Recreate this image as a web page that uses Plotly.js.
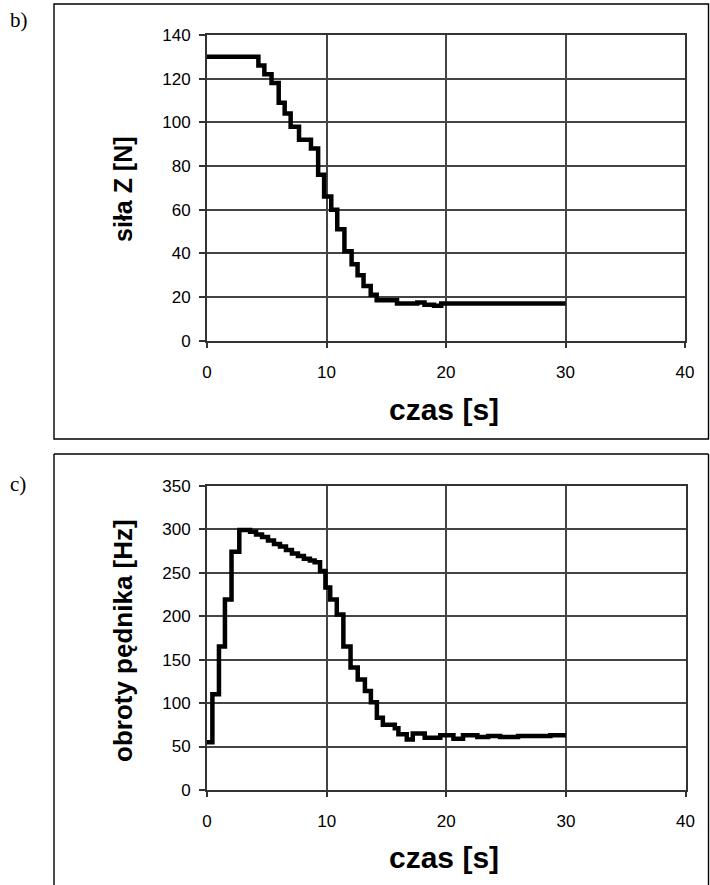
<!DOCTYPE html>
<html>
<head>
<meta charset="utf-8">
<script src="https://cdn.plot.ly/plotly-3.0.1.min.js"></script>
<style>
  html, body { margin: 0; padding: 0; background: #fff; }
  #chart { width: 710px; height: 885px; }
</style>
</head>
<body>
<div id="chart"></div>
<script>
// ---- data ----
const czasZ = [0, 4.3, 4.8, 5.4, 6.0, 6.5, 7.0, 7.7, 8.7, 9.3, 9.8, 10.4, 10.9, 11.5, 12.1, 12.6, 13.1, 13.7, 14.2, 15.9, 17.6, 18.2, 19.0, 19.6, 21.0, 23.0, 25.0, 27.0, 30.0];
const silaZ = [130, 126, 122, 118, 109, 104, 98, 92, 88, 76, 66, 60, 51, 41, 35, 30, 25, 21, 18.5, 17, 17.5, 16.5, 16, 17, 17, 17, 17, 17, 17];

const czasN = [0, 0.45, 1.0, 1.5, 2.05, 2.7, 3.6, 4.1, 4.6, 5.1, 5.6, 6.1, 6.6, 7.1, 7.6, 8.1, 8.6, 9.0, 9.45, 9.9, 10.3, 10.85, 11.4, 12.0, 12.6, 13.2, 13.7, 14.2, 14.7, 15.7, 16.0, 16.7, 17.2, 18.2, 19.5, 20.6, 21.4, 22.6, 23.5, 24.5, 26.0, 27.8, 28.7, 30.0];
const obroty = [55, 110, 165, 219, 274, 299, 297, 294, 291, 287, 283, 280, 276, 272, 269, 266, 264, 262, 252, 233, 219, 202, 165, 141, 127, 114, 101, 83, 75, 71, 64, 58, 65, 60, 63, 59, 63, 61, 62, 61, 62, 62, 63, 63];

const xTicks = [0, 10, 20, 30, 40];
const yTicksZ = [0, 20, 40, 60, 80, 100, 120, 140];
const yTicksN = [0, 50, 100, 150, 200, 250, 300, 350];

const xTitle = 'czas [s]';
const yTitleZ = 'siła Z [N]';
const yTitleN = 'obroty pędnika [Hz]';

// ---- layout helpers ----
const W = 710, H = 885;
const px = x => x / W;
const py = y => 1 - y / H;
const SANS = 'Liberation Sans, Arial, Helvetica, sans-serif';

const lineStyle = { color: '#000', width: 4.5, shape: 'hv' };

const data = [
  { x: czasZ, y: silaZ, type: 'scatter', mode: 'lines', line: lineStyle, xaxis: 'x', yaxis: 'y', hoverinfo: 'skip' },
  { x: czasN, y: obroty, type: 'scatter', mode: 'lines', line: lineStyle, xaxis: 'x2', yaxis: 'y2', hoverinfo: 'skip' }
];

function xAxis(anchor, domain) {
  return {
    anchor: anchor, domain: domain, range: [0, 40],
    tickmode: 'array', tickvals: xTicks, ticktext: xTicks.map(String),
    ticks: 'outside', ticklen: 5, tickcolor: '#333', tickwidth: 2,
    showgrid: true, gridcolor: '#444', gridwidth: 2, zeroline: false,
    showline: true, mirror: true, linecolor: '#333', linewidth: 2,
    tickfont: { family: SANS, size: 17, color: '#000' },
    ticklabelstandoff: 10, fixedrange: true
  };
}
function yAxis(anchor, domain, maxv, ticks) {
  return {
    anchor: anchor, domain: domain, range: [0, maxv],
    tickmode: 'array', tickvals: ticks, ticktext: ticks.map(String),
    ticks: 'outside', ticklen: 6, tickcolor: '#333', tickwidth: 2,
    showgrid: true, gridcolor: '#444', gridwidth: 2, zeroline: false,
    showline: true, mirror: true, linecolor: '#333', linewidth: 2,
    tickfont: { family: SANS, size: 17, color: '#000' },
    ticklabelstandoff: 5, fixedrange: true
  };
}

const layout = {
  width: W, height: H,
  margin: { l: 0, r: 0, t: 0, b: 0, pad: 0 },
  paper_bgcolor: '#fff', plot_bgcolor: '#fff',
  showlegend: false,
  xaxis: xAxis('y', [px(207), px(685)]),
  yaxis: yAxis('x', [py(340.7), py(35)], 140, yTicksZ),
  xaxis2: xAxis('y2', [px(207), px(685.5)]),
  yaxis2: yAxis('x2', [py(790), py(485.7)], 350, yTicksN),
  shapes: [
    { type: 'rect', xref: 'paper', yref: 'paper', x0: px(54), x1: px(708.5), y0: py(439), y1: py(4), line: { color: '#000', width: 1.4 } },
    { type: 'line', xref: 'paper', yref: 'paper', x0: px(54), x1: px(708.5), y0: py(454), y1: py(454), line: { color: '#000', width: 1.4 } },
    { type: 'line', xref: 'paper', yref: 'paper', x0: px(54), x1: px(54), y0: py(454), y1: py(890), line: { color: '#000', width: 1.4 } },
    { type: 'line', xref: 'paper', yref: 'paper', x0: px(708.5), x1: px(708.5), y0: py(454), y1: py(890), line: { color: '#000', width: 1.4 } }
  ],
  annotations: [
    { text: xTitle, xref: 'paper', yref: 'paper', x: px(444), y: py(410), showarrow: false, xanchor: 'center', yanchor: 'middle', font: { family: SANS, size: 30, weight: 'bold', color: '#000' } },
    { text: xTitle, xref: 'paper', yref: 'paper', x: px(444), y: py(857), showarrow: false, xanchor: 'center', yanchor: 'middle', font: { family: SANS, size: 30, weight: 'bold', color: '#000' } },
    { text: yTitleZ, xref: 'paper', yref: 'paper', x: px(123), y: py(189), showarrow: false, textangle: -90, xanchor: 'center', yanchor: 'middle', font: { family: SANS, size: 25, weight: 'bold', color: '#000' } },
    { text: yTitleN, xref: 'paper', yref: 'paper', x: px(123), y: py(641), showarrow: false, textangle: -90, xanchor: 'center', yanchor: 'middle', font: { family: SANS, size: 26, weight: 'bold', color: '#000' } },
    { text: 'b)', xref: 'paper', yref: 'paper', x: px(8), y: py(20), showarrow: false, xanchor: 'left', yanchor: 'middle', font: { family: 'Liberation Serif, Times New Roman, serif', size: 21, color: '#000' } },
    { text: 'c)', xref: 'paper', yref: 'paper', x: px(8), y: py(484), showarrow: false, xanchor: 'left', yanchor: 'middle', font: { family: 'Liberation Serif, Times New Roman, serif', size: 21, color: '#000' } }
  ]
};

Plotly.newPlot('chart', data, layout, { staticPlot: true, displayModeBar: false });
</script>
</body>
</html>
